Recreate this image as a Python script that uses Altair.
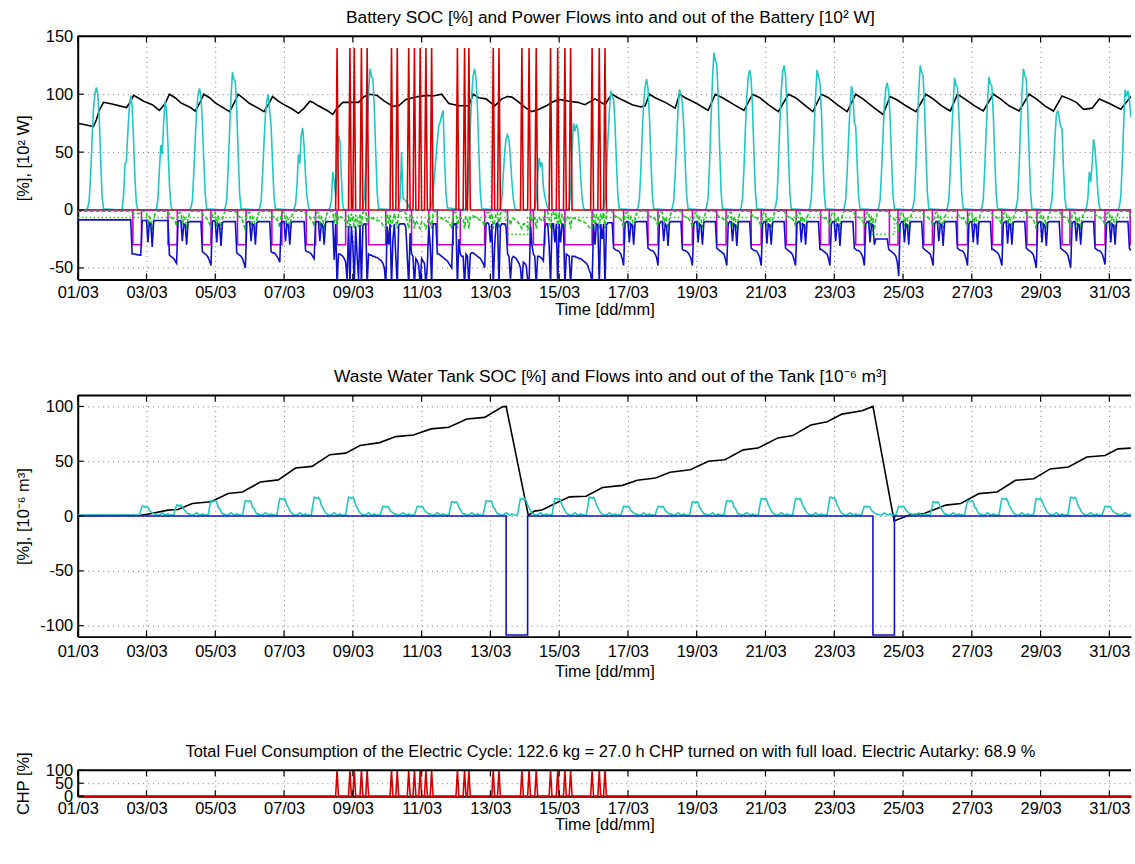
import altair as alt
import pandas as pd

FONT = "Liberation Sans"
FS = 16.5          # tick labels and axis titles
FS_TITLE = 17.4    # panel titles
W = 1057
X_MAX = 30.63                      # days after 01/03 00:00 shown on the time axis
END_H = X_MAX * 24                 # last hour on the time axis
DAY_TICKS = list(range(0, 31, 2))
XLAB = "(datum.value < 9 ? '0' : '') + (datum.value + 1) + '/03'"

C_BLACK, C_CYAN, C_RED = "#000000", "#20c6c6", "#d40000"
C_MAG, C_GREEN, C_BLUE = "#cc00cc", "#1ec81e", "#1010cc"

# ---------------- battery panel ----------------
# battery state of charge [%], (hour since 01/03 00:00, value)
SOC = [(0,75),(6,73.5),(11,72),(13,78),(15,86),(18,93),(24,91.5),
       (34,88.5),(36,92),(39,99),(42,97),(46,94),
       (52,91),(57,86),(61,92),(64,100),(68,97),(72,92.5),
       (78,89),(82,85.5),(85,92),(88,100),(92,97),(96,92.5),
       (102,88),(106,85),(109,92),(112,100),(116,96),(120,92),
       (126,88),(130,85),(133,91),(136,98),(140,94),(144,91),
       (150,87),(154,83.5),(158,88),(162,94),(164,93),(168,90),
       (174,86),(178,82.5),(181,88),(185,93),(190,93),(196,93),(200,98),(204,100),(209,99),(214,94),
       (220,89.5),(224,90),(229,95.5),(234,97),(238,98),(244,99),(248,98.5),(254,100),(259,92),(263,91),
       (266,90),(273,90),(276,100),(280,97),(285,96),(291,90),(296,96),(300,98),(303,97.5),(308,93),
       (313,88),(317,85),(322,87),(327,90),(331,93),(336,95.5),(343,94),(349,93),(354,91),(361,96),
       (368,91),(371,97),(373,100),(377,97),(382,94),(387,91),(393,89),(396,90),(399,100),(403,97),
       (410,93),(417,88),(420,100),(424,97),(432,92),(440,86),(445,100),(450,97),(458,91),(465,86),
       (471,100),(476,97),(482,91),(489,85),(496,100),(501,97),(507,91),(513,85),(519,100),(524,97),
       (530,91),(537,85),(543,100),(548,96),(555,89),(562,82.5),(567,98),(572,95),(578,90),(585,85),
       (592,100),(597,96),(603,90),(609,85.5),(614,100),(619,96),(626,90),(632,85.5),(639,100),(644,96),
       (650,90),(657,85.5),(664,100),(669,96),(675,90),(681,85.5),(687,98.5),(692,96),(697,93),(702,87),
       (708,88),(713,95.8),(720,92),(728,87),(735,98)]

# PV power into the battery [10^2 W], hours 06..18 of each day
PV_HOURS = list(range(6, 19))
PV = [
    [0,2,8,30,60,88,100,106,100,80,45,12,1],
    [0,1,12,40,42,68,88,99,90,60,25,5,0],
    [0,1,10,35,56,48,76,94,85,55,22,4,0],
    [0,2,8,32,61,86,100,105,98,76,42,13,1],
    [0,2,10,36,69,98,119,113,111,86,48,14,1],
    [0,2,8,30,58,82,95,100,85,72,40,12,1],
    [0,1,5,20,48,40,65,71,55,30,12,3,0],
    [0,0,2,8,33,25,12,40,64,60,28,4,0],
    [0,2,10,37,71,100,122,116,113,88,49,15,1],
    [0,0,2,10,50,10,9,8,6,3,1,0,0],
    [0,5,15,30,45,60,73,76,82,86,45,15,2],
    [0,2,10,37,71,100,116,122,113,88,49,15,1],
    [0,2,10,30,50,62,65,60,45,25,10,2,0],
    [0,2,10,30,45,38,41,20,12,6,2,0,0],
    [0,2,15,50,75,68,74,70,55,30,10,2,0],
    [0,2,8,31,60,84,103,98,96,74,41,12,1],
    [0,2,9,34,66,93,107,113,105,81,45,14,1],
    [0,2,8,31,60,88,104,100,92,72,40,12,1],
    [0,3,11,41,79,112,136,129,126,98,54,16,1],
    [0,2,10,36,70,99,115,121,113,87,48,15,1],
    [0,3,10,38,73,103,119,125,116,90,50,15,1],
    [0,2,10,36,70,99,121,115,110,87,48,15,1],
    [0,2,9,32,62,88,107,102,76,72,40,12,1],
    [0,2,9,33,64,90,105,110,102,79,44,13,1],
    [0,3,10,38,73,103,125,119,116,90,50,15,1],
    [0,2,9,34,66,93,114,108,106,82,46,14,1],
    [0,2,9,35,67,94,115,109,107,83,46,14,1],
    [0,2,10,37,71,100,122,116,113,88,49,15,1],
    [0,2,10,35,62,82,86,80,72,70,35,10,1],
    [0,0,2,10,33,24,40,61,53,35,15,3,0],
    [0,3,12,40,75,104,98,103,95,80,62,30,8],
]

# hours in which the CHP ran at full load (27 h in total)
CHP_ON = [181,190,193,198,202,219,223,231,235,239,243,247,265,270,273,
          290,294,310,315,320,330,335,340,344,359,364,368]
CHP_TOP = 140      # CHP power into the battery [10^2 W]

# heater load drawn from the battery (-30), start/end hours
HEATER = [(38.5,44.5),(63,69.5),(87,93),(111.5,117.5),(135.5,142.5),(159.5,166),(181,187),
          (203,215),(233,245),(251,262),(267,284),(300,316),(318,326),(340,359),(374,381),
          (398,405),(422,429),(446,452.5),(470,477),(494.5,501.5),(518.5,524.5),(543,549),
          (566.5,572.5),(590.5,596.5),(614,621),(638.5,645),(662.5,669.5),(687,692.5),
          (710,717),(734.5,741)]
HEATER_LEVEL = -30

# treatment pump draw (green dotted)
PUMP = [(0,-6.5),(299,-6.5),(299,-21),(314,-21),(314,-6.5),(555,-6.5),(555,-21),
        (570,-21),(570,-6.5),(735,-6.5)]

# auxiliary loads (green dashed), hourly values per day
AUX = [
    [-1,-1,-1,-1,-1,-1,-1,-1,-1,-1,-1,-1,-1,-1,-1,-1,-1,-1,-1,-1,-1,-1,-1,-1],
    [-1,-1,-1,-1,-1,-1,-1,-1,-1,-1,-1,-1,-1,-1,-2,-3,-3,-3,-3,-3,-3,-1,-1,-1],
    [-2,-15,-6,-8,-18,-8,-3,-1,-1,-1,-1,-1,-1,-1,-1,-1,-4,-6,-7,-8,-10,-14,-5,-2],
    [-2,-13,-6,-8,-16,-7,-3,-1,-1,-1,-1,-1,-1,-1,-1,-3,-5,-6,-7,-9,-12,-16,-4,-2],
    [-2,-14,-6,-9,-17,-8,-3,-1,-1,-1,-1,-1,-1,-1,-1,-3,-5,-6,-7,-9,-13,-18,-4,-2],
    [-2,-14,-6,-8,-17,-8,-3,-1,-1,-1,-1,-1,-1,-1,-1,-3,-5,-6,-7,-8,-11,-15,-4,-2],
    [-2,-13,-6,-8,-16,-7,-3,-1,-1,-1,-1,-1,-1,-1,-1,-3,-4,-5,-6,-8,-10,-14,-4,-2],
    [-2,-14,-6,-8,-17,-8,-3,-1,-1,-1,-1,-12,-2,-14,-5,-6,-6,-7,-8,-10,-15,-4,-16,-3],
    [-8,-16,-4,-10,-15,-3,-14,-2,-1,-1,-13,-6,-6,-7,-7,-8,-8,-9,-9,-10,-11,-13,-15,-16],
    [-3,-12,-4,-15,-9,-3,-10,-16,-2,-1,-1,-1,-1,-3,-10,-16,-5,-6,-7,-16,-9,-11,-14,-16],
    [-10,-11,-12,-16,-13,-3,-9,-16,-2,-1,-1,-6,-6,-7,-7,-8,-8,-9,-10,-11,-13,-15,-3,-2],
    [-2,-16,-7,-6,-7,-7,-16,-6,-7,-16,-6,-5,-5,-6,-6,-7,-8,-9,-10,-11,-14,-3,-2,-2],
    [-8,-3,-16,-9,-3,-2,-16,-3,-1,-1,-1,-2,-6,-7,-13,-8,-7,-8,-9,-10,-12,-14,-16,-12],
    [-12,-13,-15,-16,-3,-9,-6,-7,-16,-7,-7,-8,-9,-10,-3,-1,-1,-8,-16,-2,-1,-8,-2,-16],
    [-2,-12,-4,-6,-16,-6,-6,-7,-16,-7,-7,-7,-8,-8,-9,-9,-10,-10,-11,-12,-13,-15,-16,-16],
    [-2,-13,-4,-6,-16,-3,-8,-2,-16,-2,-1,-1,-1,-1,-3,-5,-6,-6,-7,-8,-11,-15,-4,-2],
    [-2,-14,-6,-8,-17,-8,-3,-1,-1,-1,-1,-1,-1,-1,-3,-5,-6,-6,-7,-8,-10,-14,-4,-2],
    [-2,-13,-6,-9,-16,-7,-3,-1,-1,-1,-1,-1,-1,-1,-3,-5,-6,-7,-7,-9,-11,-15,-4,-2],
    [-2,-14,-6,-8,-17,-8,-3,-1,-1,-1,-1,-1,-1,-1,-3,-5,-6,-6,-7,-8,-10,-14,-4,-2],
    [-2,-15,-6,-8,-17,-8,-3,-1,-1,-1,-1,-1,-1,-1,-3,-5,-6,-6,-7,-9,-11,-15,-4,-2],
    [-2,-14,-6,-8,-16,-8,-3,-1,-1,-1,-1,-1,-1,-1,-3,-5,-6,-6,-7,-8,-10,-14,-4,-2],
    [-2,-13,-6,-8,-17,-7,-3,-1,-1,-1,-1,-1,-1,-1,-3,-5,-6,-7,-7,-8,-11,-15,-4,-2],
    [-2,-14,-6,-8,-17,-8,-3,-1,-1,-1,-1,-1,-1,-1,-3,-5,-6,-6,-7,-8,-10,-14,-4,-2],
    [-2,-14,-6,-8,-17,-8,-3,-1,-1,-1,-1,-1,-1,-1,-3,-5,-6,-7,-8,-9,-12,-18,-4,-2],
    [-2,-14,-6,-8,-17,-8,-3,-1,-1,-1,-1,-1,-1,-1,-3,-5,-6,-6,-7,-8,-10,-14,-4,-2],
    [-2,-13,-6,-9,-16,-7,-3,-1,-1,-1,-1,-1,-1,-1,-3,-5,-6,-7,-7,-9,-11,-15,-4,-2],
    [-2,-14,-6,-8,-17,-8,-3,-1,-1,-1,-1,-1,-1,-1,-3,-5,-6,-6,-7,-8,-10,-14,-4,-2],
    [-2,-15,-6,-8,-17,-8,-3,-1,-1,-1,-1,-1,-1,-1,-3,-5,-6,-6,-7,-9,-11,-16,-4,-2],
    [-2,-14,-6,-8,-16,-8,-3,-1,-1,-1,-1,-1,-1,-1,-3,-5,-6,-6,-7,-8,-11,-15,-4,-2],
    [-2,-13,-6,-8,-17,-7,-3,-1,-1,-1,-1,-1,-1,-1,-3,-5,-6,-6,-7,-8,-10,-14,-4,-2],
    [-2,-14,-6,-8,-17,-8,-3,-1,-1,-1,-1,-1,-1,-1,-3,-5,-6,-6,-7,-8,-10,-14,-4,-2],
]

# total household load drawn from the battery (blue), hourly values per day
LOAD = [
    [-8.5,-8.5,-8.5,-8.5,-8.5,-8.5,-8.5,-8.5,-8.5,-8.5,-8.5,-8.5,-8.5,-8.5,-8.5,-8.5,-8.5,-8.5,-8.5,-8.5,-8.5,-8.5,-8.5,-8.5],
    [-8.5,-8.5,-8.5,-8.5,-8.5,-8.5,-8.5,-8.5,-8.5,-8.5,-8.5,-8.5,-8.5,-8.5,-38,-38,-38,-38.5,-38.5,-39,-39,-9,-9,-9],
    [-9,-28,-11,-12,-32,-10,-9,-9,-9,-9,-9,-9,-9,-9,-9,-9,-39,-40,-41,-42,-44,-46,-10,-9],
    [-9,-27,-12,-13,-30,-11,-10,-10,-10,-10,-10,-10,-10,-10,-10,-36,-37,-38,-39,-41,-44,-48,-10,-9],
    [-10,-28,-12,-13,-31,-11,-10,-10,-10,-10,-10,-10,-10,-10,-10,-37,-38,-39,-40,-42,-46,-50,-11,-10],
    [-10,-27,-12,-13,-30,-11,-10,-10,-10,-10,-10,-10,-10,-10,-10,-36,-37,-37,-38,-40,-42,-45,-11,-10],
    [-10,-27,-12,-13,-30,-11,-10,-10,-10,-10,-10,-10,-10,-10,-10,-35,-36,-36,-37,-38,-40,-42,-11,-10],
    [-10,-27,-12,-13,-30,-11,-10,-10,-10,-10,-10,-43,-12,-65,-38,-38,-39,-40,-42,-45,-60,-14,-65,-14],
    [-30,-65,-14,-40,-60,-13,-65,-14,-12,-12,-65,-38,-39,-39,-40,-40,-41,-41,-42,-43,-44,-46,-50,-65],
    [-14,-30,-12,-65,-25,-12,-40,-65,-13,-12,-12,-12,-12,-15,-40,-65,-20,-38,-40,-65,-42,-44,-48,-65],
    [-42,-44,-46,-65,-48,-14,-30,-65,-12,-12,-12,-38,-38,-39,-40,-41,-42,-43,-44,-46,-48,-50,-14,-12],
    [-12,-65,-25,-38,-40,-40,-65,-38,-40,-65,-38,-37,-37,-38,-39,-40,-41,-42,-44,-46,-50,-12,-11,-12],
    [-28,-12,-65,-30,-12,-11,-65,-14,-12,-12,-12,-15,-38,-40,-60,-42,-40,-41,-42,-44,-46,-50,-65,-45],
    [-46,-48,-60,-65,-14,-30,-38,-40,-65,-40,-40,-41,-42,-44,-15,-12,-12,-30,-65,-12,-12,-28,-12,-65],
    [-12,-28,-12,-13,-65,-38,-39,-40,-65,-40,-40,-40,-41,-41,-42,-42,-43,-44,-45,-46,-48,-52,-55,-65],
    [-12,-30,-12,-13,-65,-12,-25,-12,-65,-13,-11,-11,-11,-11,-33,-34,-35,-35,-36,-38,-42,-48,-12,-10],
    [-10,-28,-12,-13,-30,-11,-10,-10,-10,-10,-10,-10,-10,-10,-33,-34,-35,-35,-36,-38,-41,-48,-12,-10],
    [-10,-27,-12,-14,-31,-11,-10,-10,-10,-10,-10,-10,-10,-10,-34,-35,-35,-36,-37,-39,-42,-48,-12,-10],
    [-10,-28,-12,-13,-30,-11,-10,-10,-10,-10,-10,-10,-10,-10,-33,-34,-35,-36,-37,-38,-42,-48,-12,-10],
    [-10,-27,-12,-13,-31,-11,-10,-10,-10,-10,-10,-10,-10,-10,-33,-34,-35,-35,-36,-38,-41,-48,-12,-10],
    [-10,-29,-12,-13,-30,-11,-10,-10,-10,-10,-10,-10,-10,-10,-33,-34,-35,-36,-37,-39,-43,-48,-12,-10],
    [-10,-28,-12,-13,-30,-11,-10,-10,-10,-10,-10,-10,-10,-10,-34,-34,-35,-36,-37,-38,-42,-48,-12,-10],
    [-10,-27,-12,-13,-31,-11,-10,-10,-10,-10,-10,-10,-10,-10,-33,-34,-35,-35,-36,-38,-41,-48,-12,-10],
    [-10,-28,-12,-13,-30,-25,-25,-25,-25,-25,-25,-25,-25,-25,-34,-35,-36,-37,-38,-40,-45,-57,-12,-10],
    [-10,-28,-12,-13,-30,-11,-10,-10,-10,-10,-10,-10,-10,-10,-33,-34,-35,-36,-37,-38,-42,-48,-12,-10],
    [-10,-27,-12,-13,-31,-11,-10,-10,-10,-10,-10,-10,-10,-10,-33,-34,-35,-35,-36,-38,-42,-48,-12,-10],
    [-10,-28,-12,-13,-30,-11,-10,-10,-10,-10,-10,-10,-10,-10,-34,-34,-35,-36,-37,-39,-43,-48,-12,-10],
    [-10,-29,-12,-13,-30,-11,-10,-10,-10,-10,-10,-10,-10,-10,-33,-34,-35,-36,-37,-39,-44,-50,-12,-10],
    [-10,-28,-12,-13,-31,-11,-10,-10,-10,-10,-10,-10,-10,-10,-33,-34,-35,-36,-37,-39,-44,-50,-12,-10],
    [-10,-27,-12,-13,-30,-11,-10,-10,-10,-10,-10,-10,-10,-10,-33,-34,-35,-35,-36,-38,-42,-47,-12,-10],
    [-10,-28,-12,-13,-30,-11,-10,-10,-10,-10,-10,-10,-10,-10,-33,-35,-38,-39,-40,-42,-45,-48,-12,-10],
]

# ---------------- waste water tank panel ----------------
TANK = [(0,0.5),(44,0.8),(48,1.5),(63,5.4),(70,6),(80,11.5),(93,13),(105,20.5),(115,22),
        (127.5,31),(140,33),(152,43.8),(163.5,45.3),(176,56),(187,57.4),(197,64.4),(210.7,67),
        (222,72.5),(234.3,74),(246.6,79.5),(259,81),(271.6,88.5),(284,90),(296.4,99.7),(299,100),
        (314.5,0.5),(318.8,4.5),(324,5.5),(335.7,13),(343.3,17.5),(354.8,18),(366.3,26),(380.2,28),
        (390.5,32.6),(403.3,34.7),(413.4,40),(427.5,42.3),(440.2,50),(451.7,51.4),(464.5,60.4),
        (474.7,62),(488.7,71.3),(499,73.4),(511.7,83),(523.1,86),(533.4,93),(547.4,96),(555,100),
        (569.8,-4.5),(580.5,1),(590.7,2.4),(606,10),(616.3,11.5),(629,20.5),(641.7,22),(654.5,32.6),
        (667.3,34),(678.7,43),(691.5,44.7),(704.3,53.8),(717,55.3),(726,61.3),(735,62)]

# waste water inflow [10^-6 m^3], hourly values per day
INFLOW = [
    [1,1,1,1,1,1,1,1,1,1,1,1,1,1,1,1,1,1,1,1,1,1,1,1],
    [1,1,1,1,1,1,1,1,1,1,1,1,1,1,1,1,1,1,1,1,5,9,9,8],
    [9,8,5,4,3,2,2,1,1,1,2,3,2,1,1,2,1,1,1,1,6,10,10,9],
    [10,9,6,5,3,2,2,1,1,1,2,3,2,1,1,2,1,1,1,1,8,14,14,13],
    [14,13,8,7,4,2,2,1,1,1,2,3,2,1,1,2,1,1,1,1,8,14,14,13],
    [14,13,8,7,4,2,2,1,1,1,2,3,2,1,1,2,1,1,1,1,9,16,16,15],
    [16,14,10,8,5,3,2,1,1,1,2,3,2,1,1,2,1,1,1,1,9,17,17,16],
    [17,15,10,8,5,3,2,1,1,1,2,3,2,1,1,2,1,1,1,1,9,17,17,16],
    [17,15,10,8,5,3,2,1,1,1,2,3,2,1,1,2,1,1,1,1,5,9,9,8],
    [9,8,5,4,3,2,2,1,1,1,2,3,2,1,1,2,1,1,1,1,5,9,9,8],
    [9,8,5,4,3,2,2,1,1,1,2,3,2,1,1,2,1,1,1,1,7,13,13,12],
    [13,12,8,6,4,2,2,1,1,1,2,3,2,1,1,2,1,1,1,1,8,14,14,13],
    [14,13,8,7,4,2,2,1,1,1,2,3,2,1,1,2,1,1,1,1,9,16,16,15],
    [16,14,10,8,5,3,2,1,1,1,2,3,2,1,1,2,1,1,1,1,9,16,16,15],
    [16,14,10,8,5,3,2,1,1,1,2,3,2,1,1,2,1,1,1,1,9,17,17,16],
    [17,15,10,8,5,3,2,1,1,1,2,3,2,1,1,2,1,1,1,1,5,9,9,8],
    [9,8,5,4,3,2,2,1,1,1,2,3,2,1,1,2,1,1,1,1,5,9,9,8],
    [9,8,5,4,3,2,2,1,1,1,2,3,2,1,1,2,1,1,1,1,7,13,13,12],
    [13,12,8,6,4,2,2,1,1,1,2,3,2,1,1,2,1,1,1,1,8,14,14,13],
    [14,13,8,7,4,2,2,1,1,1,2,3,2,1,1,2,1,1,1,1,9,16,16,15],
    [16,14,10,8,5,3,2,1,1,1,2,3,2,1,1,2,1,1,1,1,9,16,16,15],
    [16,14,10,8,5,3,2,1,1,1,2,3,2,1,1,2,1,1,1,1,9,17,17,16],
    [17,15,10,8,5,3,2,1,1,1,2,3,2,1,1,2,1,1,1,1,5,9,9,8],
    [9,8,5,4,3,2,2,1,1,1,2,3,2,1,1,2,1,1,1,1,5,9,9,8],
    [9,8,5,4,3,2,2,1,1,1,2,3,2,1,1,2,1,1,1,1,7,13,13,12],
    [13,12,8,6,4,2,2,1,1,1,2,3,2,1,1,2,1,1,1,1,8,14,14,13],
    [14,13,8,7,4,2,2,1,1,1,2,3,2,1,1,2,1,1,1,1,9,16,16,15],
    [16,14,10,8,5,3,2,1,1,1,2,3,2,1,1,2,1,1,1,1,9,16,16,15],
    [16,14,10,8,5,3,2,1,1,1,2,3,2,1,1,2,1,1,1,1,9,17,17,16],
    [17,15,10,8,5,3,2,1,1,1,2,3,2,1,1,2,1,1,1,1,5,9,9,8],
    [9,8,5,4,3,2,2,1,1,1,2,3,2,1,1,2,1],
]

# tank drain (pump-out) flow, clipped at the lower axis limit
DRAIN = [(0,0),(299,0),(299,-108.5),(314,-108.5),(314,0),(555,0),(555,-108.5),
         (570,-108.5),(570,0),(735,0)]


# ---------------- helpers building tidy frames ----------------
def frame(days_x, values):
    return pd.DataFrame({"x": days_x, "v": values, "i": list(range(len(values)))})


def from_pairs(pairs):
    return frame([h / 24 for h, _ in pairs], [v for _, v in pairs])


def from_hourly(days, hours=None):
    xs, vs = [], []
    for d, day in enumerate(days):
        hrs = hours if hours is not None else range(len(day))
        for h, v in zip(hrs, day):
            if d * 24 + h <= END_H:
                xs.append(d + h / 24)
                vs.append(v)
    return frame(xs, vs)


def from_spans(spans, level):
    pairs = [(0, 0)]
    for s, e in spans:
        pairs += [(s, 0), (s, level), (min(e, END_H), level), (min(e, END_H), 0)]
    pairs.append((END_H, 0))
    return from_pairs(pairs)


def from_pulses(hours, level):
    pairs = [(0, 0)]
    for h in hours:
        pairs += [(h - 1, 0), (h, level), (h + 1, 0)]
    pairs.append((END_H, 0))
    return from_pairs(pairs)


def panel(series, y_domain, y_ticks, y_title, title, height, title_offset, title_size,
          label_pad, title_pad):
    X = alt.X("x:Q", scale=alt.Scale(domain=[0, X_MAX], nice=False, zero=False),
              axis=alt.Axis(values=DAY_TICKS, labelExpr=XLAB, title="Time [dd/mm]", grid=True,
                            labelFlush=False, labelOverlap=False, labelPadding=label_pad,
                            titlePadding=title_pad))
    Y = alt.Y("v:Q", scale=alt.Scale(domain=y_domain, nice=False, zero=False),
              axis=alt.Axis(values=y_ticks, labelExpr="'' + datum.value", title=y_title, grid=True,
                            labelOverlap=False, labelPadding=5, titlePadding=3,
                            minExtent=43, maxExtent=43))
    layers = []
    for df, color, dash, clip in series:
        kw = dict(color=color, strokeWidth=1.6, clip=clip)
        if dash:
            kw["strokeDash"] = dash
        layers.append(alt.Chart(df).mark_line(**kw).encode(x=X, y=Y, order="i:Q"))

    # inward tick marks on the bottom, top and left edges, and the top frame line
    tx = pd.DataFrame({"x": DAY_TICKS})
    ty = pd.DataFrame({"v": y_ticks})
    one = pd.DataFrame({"x": [0]})
    layers.append(alt.Chart(tx).mark_rule(color="black", strokeWidth=1.2)
                  .encode(x=X, y=alt.value(height), y2=alt.value(height - 6)))
    layers.append(alt.Chart(tx).mark_rule(color="black", strokeWidth=1.2)
                  .encode(x=X, y=alt.value(0), y2=alt.value(6)))
    layers.append(alt.Chart(ty).mark_rule(color="black", strokeWidth=1.2)
                  .encode(y=Y, x=alt.value(0), x2=alt.value(6)))
    layers.append(alt.Chart(one).mark_rule(color="black", strokeWidth=2)
                  .encode(x=alt.value(0), x2=alt.value(W), y=alt.value(0)))
    return alt.layer(*layers).properties(
        width=W, height=height,
        title=alt.TitleParams(title, offset=title_offset, baseline="alphabetic", dx=6,
                              fontSize=title_size))


battery = panel(
    [
        (from_pairs(SOC), C_BLACK, None, True),
        (from_hourly(PV, PV_HOURS), C_CYAN, None, True),
        (from_pulses(CHP_ON, CHP_TOP), C_RED, None, True),
        (from_spans(HEATER, HEATER_LEVEL), C_MAG, None, True),
        (from_pairs(PUMP), C_GREEN, [1.5, 2.5], True),
        (from_hourly(AUX), C_GREEN, [4, 2], True),
        (from_hourly(LOAD), C_BLUE, None, True),
    ],
    [-60, 150], [-50, 0, 50, 100, 150], "[%], [10² W]",
    "Battery SOC [%] and Power Flows into and out of the Battery [10² W]", 244, -11.9, FS_TITLE,
    5, 1)

tank = panel(
    [
        (from_pairs(TANK), C_BLACK, None, True),
        (from_hourly(INFLOW), C_CYAN, None, True),
        (from_pairs(DRAIN), C_BLUE, None, True),
    ],
    [-110, 110], [-100, -50, 0, 50, 100], "[%], [10⁻⁶ m³]",
    "Waste Water Tank SOC [%] and Flows into and out of the Tank [10⁻⁶ m³]", 242, -4.4, FS_TITLE,
    7, 4)

chp = panel(
    [
        (from_pulses(CHP_ON, 100), C_RED, None, False),
    ],
    [0, 100], [0, 50, 100], "CHP [%]",
    "Total Fuel Consumption of the Electric Cycle: 122.6 kg = 27.0 h CHP turned on with full load. "
    "Electric Autarky: 68.9 %", 26, -22.2, FS,
    4, 0)

chart = alt.vconcat(alt.vconcat(battery, tank, spacing=47.4), chp, spacing=62.5).properties(
    padding={"left": 15, "top": 7, "right": 0, "bottom": 0}
).configure_axis(
    labelFont=FONT, titleFont=FONT, labelFontSize=FS, titleFontSize=FS,
    titleFontWeight="normal", labelColor="black", titleColor="black",
    domainColor="black", domainWidth=2, gridColor="black", gridDash=[1, 4],
    gridOpacity=0.55, gridWidth=1, ticks=False, tickSize=0
).configure_title(
    font=FONT, fontSize=FS, fontWeight="normal", color="black"
).configure_view(stroke="transparent")

chart.save("out.html", embed_options={"renderer": "svg", "actions": False})
